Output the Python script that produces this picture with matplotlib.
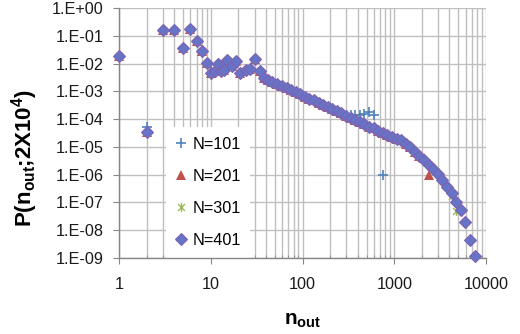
import matplotlib
matplotlib.use("Agg")
import matplotlib.pyplot as plt
from matplotlib.path import Path
from matplotlib.patches import Rectangle
from matplotlib.ticker import LogLocator, NullLocator, FixedLocator, FixedFormatter

# log-binned out-degree values
n_bins = [1, 2, 3, 4, 5, 6, 7, 8, 9, 10, 11, 12, 13, 14, 15, 17, 19, 21, 24, 27,
          30, 34, 38, 42, 47, 53, 60, 67, 75, 84, 94, 106, 119, 133, 150, 168,
          188, 211, 237, 266, 299, 335, 376, 422, 473, 531, 596, 668, 750, 841,
          944, 1059, 1189, 1334, 1496, 1679, 1884, 2113, 2371, 2661, 2985, 3350,
          3758, 4217, 4732, 5309, 5957, 6683, 7499]

# N=401 (covers the full range)
p_401 = [1.9e-2, 3.5e-5, 1.56e-1, 1.66e-1, 3.5e-2, 1.7e-1, 6.6e-2, 2.9e-2,
         1.05e-2, 4.6e-3, 5.5e-3, 9.7e-3, 5.2e-3, 6.0e-3, 1.38e-2, 8.0e-3,
         1.26e-2, 4.6e-3, 6.0e-3, 6.6e-3, 1.5e-2, 5.2e-3, 3.0e-3, 2.6e-3,
         2.1e-3, 1.8e-3, 1.5e-3, 1.3e-3, 1.1e-3, 9.1e-4, 7.8e-4, 6.5e-4,
         5.5e-4, 4.7e-4, 3.9e-4, 3.3e-4, 2.75e-4, 2.35e-4, 1.95e-4, 1.65e-4,
         1.32e-4, 1.1e-4, 9.1e-5, 7.8e-5, 6.5e-5, 5.4e-5, 4.6e-5, 3.8e-5,
         3.2e-5, 2.75e-5, 2.35e-5, 2.0e-5, 1.7e-5, 1.3e-5, 9.8e-6, 6.8e-6,
         4.7e-6, 3.4e-6, 2.3e-6, 1.6e-6, 1.1e-6, 6.6e-7, 3.7e-7, 2.2e-7,
         1.05e-7, 5.2e-8, 1.9e-8, 4.4e-9, 1.15e-9]

# N=101: same as N=401 up to n=299 (except n=2), then its own tail
n_101_tail = [335, 376, 422, 473, 531, 596, 750]
p_101_tail = [1.45e-4, 1.45e-4, 1.4e-4, 1.55e-4, 1.75e-4, 1.35e-4, 1.0e-6]
p_101_n2 = 5.0e-5

# N=201: same as N=401 up to n=1884, then
n_201_tail = [2113, 2371]
p_201_tail = [4.0e-6, 1.0e-6]

# N=301: same as N=401 up to n=3758, then
n_301_tail = [4217, 4732]
p_301_tail = [1.7e-7, 5.0e-8]

labels = ["N=101", "N=201", "N=301", "N=401"]
y_ticks = [1e0, 1e-1, 1e-2, 1e-3, 1e-4, 1e-5, 1e-6, 1e-7, 1e-8, 1e-9]
y_tick_labels = ["1.E+00", "1.E-01", "1.E-02", "1.E-03", "1.E-04",
                 "1.E-05", "1.E-06", "1.E-07", "1.E-08", "1.E-09"]
x_ticks = [1, 10, 100, 1000, 10000]
x_tick_labels = ["1", "10", "100", "1000", "10000"]

# build the series
k101 = n_bins.index(299) + 1
n_101 = n_bins[:k101] + n_101_tail
p_101 = p_401[:k101] + p_101_tail
p_101[1] = p_101_n2
k201 = n_bins.index(1884) + 1
n_201 = n_bins[:k201] + n_201_tail
p_201 = p_401[:k201] + p_201_tail
k301 = n_bins.index(3758) + 1
n_301 = n_bins[:k301] + n_301_tail
p_301 = p_401[:k301] + p_301_tail

plt.rcParams.update({
    "font.family": "Liberation Sans",
    "mathtext.fontset": "custom",
    "mathtext.rm": "Liberation Sans:bold",
    "mathtext.bf": "Liberation Sans:bold",
    "mathtext.it": "Liberation Sans:bold",
})

# asterisk marker like Excel's (x plus vertical bar)
star = Path([(-1, -1), (1, 1), (-1, 1), (1, -1), (0, -1.3), (0, 1.3)],
            [Path.MOVETO, Path.LINETO, Path.MOVETO, Path.LINETO, Path.MOVETO, Path.LINETO])

fig = plt.figure(figsize=(5.2, 3.34), dpi=100)
ax = fig.add_axes([119 / 520, 76 / 334, 367 / 520, 250 / 334])

ax.plot(n_101, p_101, ls="none", marker="+", ms=7, mew=1.2, color="#4F81BD",
        label=labels[0], zorder=3, clip_on=False)
ax.plot(n_201, p_201, ls="none", marker="^", ms=7, mew=0, color="#C0504D",
        label=labels[1], zorder=3, clip_on=False)
ax.plot(n_301, p_301, ls="none", marker=star, ms=6.5, mew=1.0, color="#9BBB59",
        mfc="none", label=labels[2], zorder=3, clip_on=False)
ax.plot(n_bins, p_401, ls="none", marker="D", ms=5.8, mew=0.8, mfc="#6574C6",
        mec="#7F62B4", label=labels[3], zorder=3, clip_on=False)

ax.set_xscale("log")
ax.set_yscale("log")
ax.set_xlim(1, 10000)
ax.set_ylim(1e-9, 1)

ax.xaxis.set_major_locator(FixedLocator(x_ticks))
ax.xaxis.set_major_formatter(FixedFormatter(x_tick_labels))
ax.xaxis.set_minor_locator(LogLocator(base=10, subs=range(2, 10), numticks=20))
ax.yaxis.set_major_locator(FixedLocator(y_ticks))
ax.yaxis.set_major_formatter(FixedFormatter(y_tick_labels))
ax.yaxis.set_minor_locator(NullLocator())

ax.set_axisbelow(True)
ax.grid(True, which="major", axis="both", color="#BFBFBF", lw=1.0)
ax.grid(True, which="minor", axis="x", color="#BFBFBF", lw=1.0)

for s in ["top", "right"]:
    ax.spines[s].set_visible(False)
for s in ["left", "bottom"]:
    ax.spines[s].set_color("#868686")
    ax.spines[s].set_linewidth(1.0)

ax.tick_params(axis="both", which="major", direction="out", length=4,
               color="#868686", labelsize=11.7, labelcolor="#1a1a1a")
ax.tick_params(axis="y", which="major", pad=7)
ax.tick_params(axis="x", which="major", pad=10)
ax.tick_params(axis="x", which="minor", direction="in", length=2.5, color="#868686")

# white legend area covering the grid
ax.add_patch(Rectangle((0.128, 0.0), 0.229, 0.524, transform=ax.transAxes,
                       facecolor="white", edgecolor="none", zorder=1))
ax.legend(loc="upper left", bbox_to_anchor=(0.147, 0.485), frameon=False,
          fontsize=11.7, numpoints=1, handlelength=1.0, handletextpad=0.2,
          labelspacing=1.05, borderpad=0, borderaxespad=0)

ax.set_xlabel(r"$\mathbf{n_{out}}$", fontsize=15)
ax.xaxis.set_label_coords(0.5, -0.21)
ax.set_ylabel(r"P(n$_{\mathbf{out}}$;2X10$^{\mathbf{4}}$)", fontsize=16,
              fontweight="bold")
ax.yaxis.set_label_coords(-0.214, 0.40)

fig.savefig("out.png", dpi=100)
